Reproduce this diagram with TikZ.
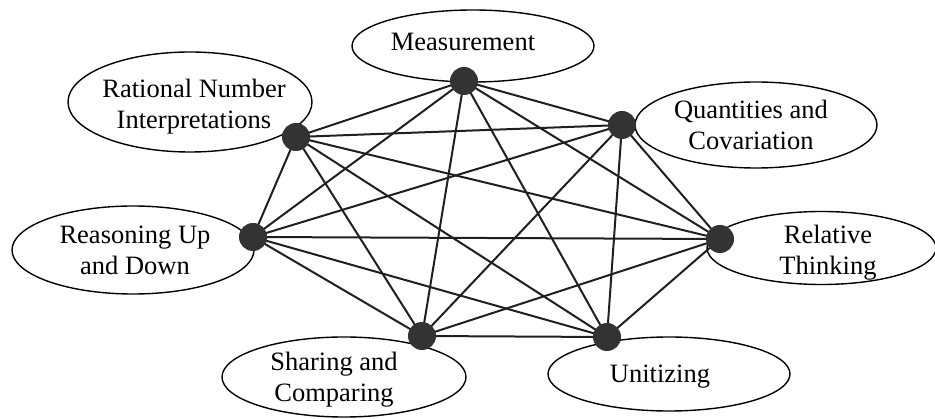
\documentclass[tikz,border=0pt]{standalone}
\usepackage{fontspec}
\setmainfont{Liberation Serif}
\usetikzlibrary{shapes.geometric}
\definecolor{dotgray}{HTML}{333333}
\begin{document}
\begin{tikzpicture}[x=1pt,y=-1pt,
  ring/.style={ellipse, draw=black, line width=1.4pt, fill=white, inner sep=0pt},
  caption/.style={align=center, inner sep=0pt, font=\fontsize{26.5}{31}\selectfont},
  hub/.style={circle, inner sep=0pt, minimum size=28pt},
  link/.style={line width=2pt, draw=black!88}]
\useasboundingbox (0,0) rectangle (935,419);
% ellipses
\node[ring, minimum width=242pt, minimum height=72pt] (measE) at (473,46) {};
\node[ring, minimum width=244pt, minimum height=100pt] (ratE) at (190,102) {};
\node[ring, minimum width=242pt, minimum height=86pt] (quantE) at (756,125) {};
\node[ring, minimum width=242pt, minimum height=88pt] (reasE) at (133,250) {};
\node[ring, minimum width=229pt, minimum height=73pt] (relE) at (821.5,248) {};
\node[ring, minimum width=244pt, minimum height=80pt] (shareE) at (344,377) {};
\node[ring, minimum width=242pt, minimum height=74pt] (unitE) at (669,374) {};
% texts
\node[caption] (measT) at (463,42) {Measurement};
\node[caption] (ratT) at (194,107) {Rational Number\\Interpretations};
\node[caption] (quantT) at (751,125) {Quantities and\\Covariation};
\node[caption] (reasT) at (135,250) {Reasoning Up\\and Down};
\node[caption] (relT) at (828,253) {Relative\\Thinking};
\node[caption] (shareT) at (334,380) {Sharing and\\Comparing};
\node[caption] (unitT) at (660,377) {Unitizing};
% hubs (positions)
\node[hub] (m) at (464,81) {};
\node[hub] (r) at (296,137) {};
\node[hub] (q) at (622,125) {};
\node[hub] (rs) at (253,237) {};
\node[hub] (rl) at (720,239) {};
\node[hub] (s) at (422,336) {};
\node[hub] (u) at (607,337) {};
% links
\foreach \a/\b in {m/r,m/q,m/rs,m/rl,m/s,m/u,
                   r/q,r/rs,r/rl,r/s,r/u,
                   q/rs,q/rl,q/s,q/u,
                   rs/rl,rs/s,rs/u,
                   rl/s,rl/u,
                   s/u}
  \draw[link] (\a.center) -- (\b.center);
% hub discs on top
\foreach \h in {m,r,q,rs,rl,s,u}
  \fill[dotgray] (\h.center) circle (14pt);
\end{tikzpicture}
\end{document}
